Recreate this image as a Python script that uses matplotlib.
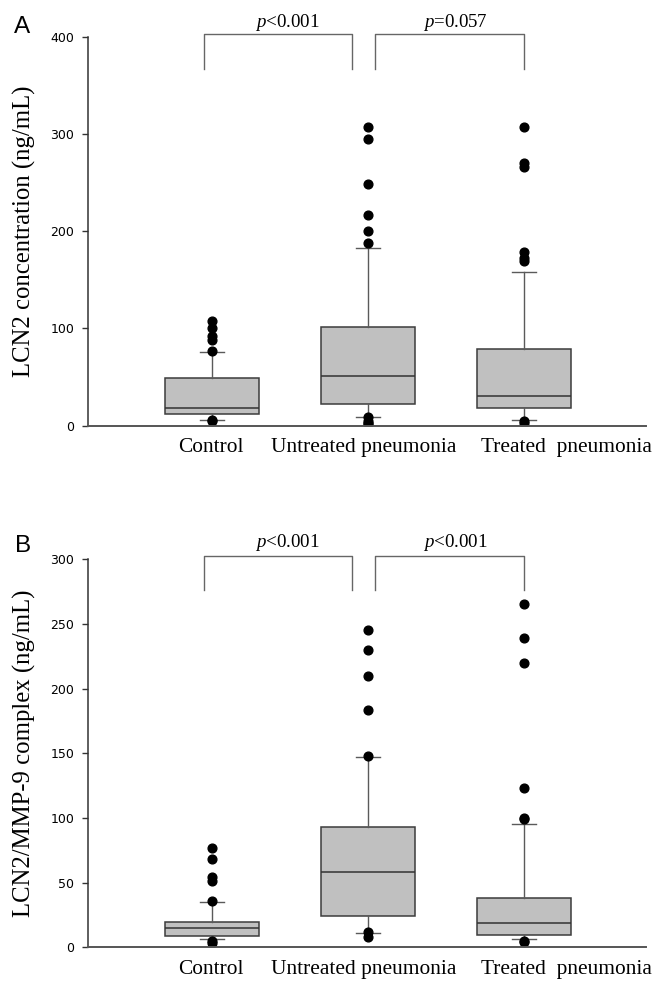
import matplotlib
matplotlib.use("Agg")
import matplotlib.pyplot as plt

plt.rcParams['mathtext.fontset'] = 'custom'
plt.rcParams['mathtext.rm'] = 'Liberation Serif'
plt.rcParams['mathtext.it'] = 'Liberation Serif:italic'

# ---------------- data ----------------
groups = ["Control", "Untreated pneumonia", "Treated  pneumonia"]

# Panel A: LCN2 concentration (ng/mL)
a_q1 = [11.7, 22.0, 18.5]
a_med = [17.9, 51.0, 31.0]
a_q3 = [48.7, 101.0, 78.5]
a_lo = [6.2, 8.6, 5.5]
a_hi = [75.5, 183.0, 158.0]
a_fliers = [
    [108.0, 100.0, 92.0, 88.0, 77.0, 5.5, 4.5],
    [307.0, 294.5, 249.0, 216.5, 200.0, 187.5, 9.0, 5.0, 3.0, 2.0],
    [307.0, 270.0, 266.5, 179.0, 172.0, 169.0, 5.0, 3.0],
]

# Panel B: LCN2/MMP-9 complex (ng/mL)
b_q1 = [8.5, 24.0, 9.3]
b_med = [14.9, 58.0, 18.6]
b_q3 = [19.3, 93.0, 38.4]
b_lo = [6.2, 10.8, 6.2]
b_hi = [35.3, 147.1, 95.1]
b_fliers = [
    [76.5, 68.5, 54.6, 51.5, 36.0, 4.5, 3.0],
    [245.3, 230.1, 210.0, 183.5, 147.9, 12.0, 8.0],
    [265.7, 238.9, 220.0, 123.0, 100.2, 99.0, 5.0, 4.0],
]

a_ticks = [0, 100, 200, 300, 400]
b_ticks = [0, 50, 100, 150, 200, 250, 300]

a_pvals = ["$p$<0.001", "$p$=0.057"]
b_pvals = ["$p$<0.001", "$p$<0.001"]

ylabels = ["LCN2 concentration (ng/mL)", "LCN2/MMP-9 complex (ng/mL)"]
panel_letters = ["A", "B"]

# ---------------- layout / style ----------------
positions = [1, 2, 3]
label_pos = [0.99, 1.974, 3.27]
bracket_x = [(0.949, 1.897), (2.042, 3.0)]
text_x = [1.48, 2.56]

fig = plt.figure(figsize=(6.56, 9.82), dpi=100)
axA = fig.add_axes([0.1341, 0.5665, 0.8506, 0.3961])
axB = fig.add_axes([0.1341, 0.0354, 0.8506, 0.3951])

serif = 'Liberation Serif'
edge = '#3c3c3c'


def draw(ax, q1, med, q3, lo, hi, fliers, ymax, ticks, pvals,
         br_top, br_bot, txt_y, ylabel):
    stats = []
    for i in range(3):
        stats.append(dict(q1=q1[i], med=med[i], q3=q3[i], whislo=lo[i],
                          whishi=hi[i], fliers=fliers[i]))
    ax.bxp(stats, positions=positions, widths=0.6, patch_artist=True,
           capwidths=0.15, showfliers=True,
           boxprops=dict(facecolor='#c0c0c0', edgecolor=edge, linewidth=1.1),
           medianprops=dict(color='#333333', linewidth=1.1),
           whiskerprops=dict(color='#5a5a5a', linewidth=1.0),
           capprops=dict(color='#5a5a5a', linewidth=1.0),
           flierprops=dict(marker='o', markerfacecolor='black',
                           markeredgecolor='black', markersize=6.3))
    ax.set_xlim(0.205, 3.782)
    ax.set_ylim(0, ymax)
    ax.set_yticks(ticks)
    ax.set_yticklabels([str(t) for t in ticks], fontfamily='DejaVu Sans',
                       fontsize=9)
    ax.tick_params(axis='y', direction='out', length=4, width=1,
                   color='#333333', pad=6)
    ax.set_xticks(label_pos)
    ax.set_xticklabels(groups, fontfamily=serif, fontsize=15.4)
    ax.tick_params(axis='x', length=0, pad=9)
    for s in ['top', 'right']:
        ax.spines[s].set_visible(False)
    ax.spines['left'].set_color('#333333')
    ax.spines['bottom'].set_color('#555555')
    ax.spines['left'].set_linewidth(1.1)
    ax.spines['bottom'].set_linewidth(1.4)
    ax.set_ylabel(ylabel, fontfamily=serif, fontsize=17.8)
    for (x0, x1), p, tx in zip(bracket_x, pvals, text_x):
        ax.plot([x0, x0, x1, x1], [br_bot, br_top, br_top, br_bot],
                color='#666666', linewidth=1.0, clip_on=False)
        ax.text(tx, txt_y, p, ha='center', va='baseline',
                fontfamily=serif, fontsize=13.6)


draw(axA, a_q1, a_med, a_q3, a_lo, a_hi, a_fliers, 400, a_ticks, a_pvals,
     403, 367, 410, ylabels[0])
draw(axB, b_q1, b_med, b_q3, b_lo, b_hi, b_fliers, 300, b_ticks, b_pvals,
     302.7, 276.3, 309.3, ylabels[1])

for ax in (axA, axB):
    ax.yaxis.set_label_coords(-0.094, 0.5)

fig.text(14 / 656, 1 - 33.3 / 982, panel_letters[0], fontfamily='Liberation Sans',
         fontsize=17.5, ha='left', va='baseline')
fig.text(14.6 / 656, 1 - 552 / 982, panel_letters[1], fontfamily='Liberation Sans',
         fontsize=17.5, ha='left', va='baseline')

fig.savefig("out.png", dpi=100)
